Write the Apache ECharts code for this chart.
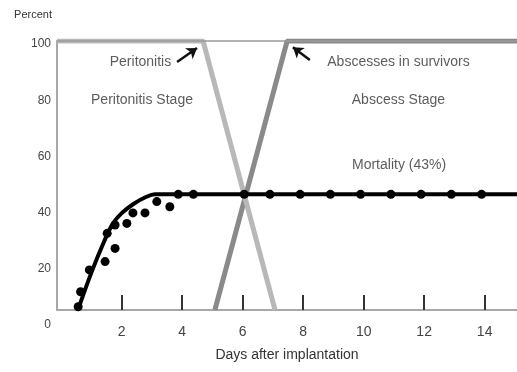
<!DOCTYPE html>
<html>
<head>
<meta charset="utf-8">
<script src="https://cdn.jsdelivr.net/npm/echarts@6/dist/echarts.min.js"></script>
<style>
  html, body { margin: 0; padding: 0; background: #fff; }
  #chart { width: 517px; height: 372px; }
</style>
</head>
<body>
<div id="chart"></div>
<script>
// Observed mortality (day after implantation, percent)
const mortalityDays = [0.56, 0.64, 0.93, 1.45, 1.52, 1.78, 1.78, 2.17, 2.37, 2.77, 3.16, 3.59, 3.87, 4.37,
                       6.05, 6.9, 7.9, 8.9, 9.9, 10.9, 11.9, 12.9, 13.9];
const mortalityPct  = [1.2, 6.8, 14.9, 18.0, 28.5, 22.9, 31.6, 32.2, 36.1, 36.1, 40.3, 38.4, 43, 43,
                       43, 43, 43, 43, 43, 43, 43, 43, 43];

// Fitted mortality curve
const fitDays = [0.55, 1.0, 1.4, 1.7, 2.0, 2.4, 2.8, 3.1, 15.07];
const fitPct  = [0, 14, 25, 32, 36, 39.5, 42, 43, 43];

// Stage curves
const peritonitisDays = [-0.14, 4.69, 7.07];
const peritonitisPct  = [100, 100, 0];
const abscessDays = [5.08, 7.47, 15.07];
const abscessPct  = [0, 100, 100];

// Axis ticks
const xTicks = [2, 4, 6, 8, 10, 12, 14];
const yTicks = [0, 20, 40, 60, 80, 100];

// Annotations: text and anchor in data units
const noteTexts = ['Peritonitis', 'Peritonitis Stage', 'Abscesses in survivors', 'Abscess Stage', 'Mortality (43%)'];
const noteDays  = [2.62, 2.67, 11.15, 11.15, 11.17];
const notePct   = [92.2, 78.1, 92.2, 78.1, 53.9];

// Arrows: [fromDay, fromPct, toDay, toPct]
const arrows = [
  [3.83, 92.2, 4.49, 97.4],
  [8.22, 92.9, 7.66, 97.7]
];

const FONT = '"Liberation Sans", Arial, sans-serif';
const zip = (xs, ys) => xs.map((x, i) => [x, ys[i]]);

const chart = echarts.init(document.getElementById('chart'), null, { renderer: 'canvas' });

chart.setOption({
  animation: false,
  backgroundColor: '#fff',
  textStyle: { fontFamily: FONT },
  grid: [
    { left: 57, right: 0, top: 41, bottom: 62 },
    { left: 57, right: 0, top: 44, bottom: 47 }
  ],
  xAxis: [
    {
      gridIndex: 0,
      type: 'value',
      min: -0.14,
      max: 15.07,
      name: 'Days after implantation',
      nameLocation: 'middle',
      nameGap: 38,
      nameTextStyle: { fontSize: 14, color: '#333', fontFamily: FONT },
      axisLine: { show: true, onZero: false, lineStyle: { color: '#a8a8a8', width: 2 } },
      axisTick: { show: true, inside: true, length: 15, customValues: xTicks,
                  lineStyle: { color: '#333', width: 2 } },
      axisLabel: { show: true, customValues: xTicks, margin: 15, fontSize: 14, color: '#444', fontFamily: FONT },
      splitLine: { show: false }
    },
    { gridIndex: 1, type: 'value', min: 0, max: 15, show: false }
  ],
  yAxis: [
    {
      gridIndex: 0,
      type: 'value',
      min: 0,
      max: 100,
      name: 'Percent',
      nameLocation: 'end',
      nameGap: 26,
      nameTextStyle: { fontSize: 11, color: '#333', align: 'right', verticalAlign: 'middle',
                       padding: [0, 5, 0, 0], fontFamily: FONT },
      axisLine: { show: true, onZero: false, lineStyle: { color: '#a8a8a8', width: 2 } },
      axisTick: { show: false },
      axisLabel: { show: false },
      splitLine: { show: false }
    },
    {
      gridIndex: 1,
      type: 'value',
      min: 0,
      max: 100,
      interval: 20,
      axisLine: { show: false },
      axisTick: { show: false },
      axisLabel: { show: true, customValues: yTicks, margin: 6, fontSize: 12, color: '#444', fontFamily: FONT },
      splitLine: { show: false }
    }
  ],
  series: [
    {
      name: 'Abscesses in survivors',
      type: 'line',
      data: zip(abscessDays, abscessPct),
      symbol: 'none',
      z: 2,
      lineStyle: { color: '#8a8a8a', width: 5 },
      markLine: {
        silent: true,
        symbol: ['none', 'none'],
        label: { show: false },
        lineStyle: { color: '#9a9a9a', width: 1.5, type: 'solid' },
        data: [{ yAxis: 100 }]
      }
    },
    {
      name: 'Peritonitis',
      type: 'line',
      data: zip(peritonitisDays, peritonitisPct),
      symbol: 'none',
      z: 3,
      lineStyle: { color: '#b8b8b8', width: 5 }
    },
    {
      name: 'Arrows',
      type: 'line',
      data: [],
      z: 6,
      markLine: {
        silent: true,
        symbol: ['none', 'arrow'],
        symbolSize: 10,
        label: { show: false },
        itemStyle: { color: '#111' },
        lineStyle: { color: '#111', width: 2.5, type: 'solid' },
        data: arrows.map(a => [{ coord: [a[0], a[1]] }, { coord: [a[2], a[3]] }])
      }
    },
    {
      name: 'Mortality fit',
      type: 'line',
      data: zip(fitDays, fitPct),
      smooth: 0.35,
      symbol: 'none',
      z: 4,
      lineStyle: { color: '#000', width: 4 }
    },
    {
      name: 'Mortality',
      type: 'scatter',
      data: zip(mortalityDays, mortalityPct),
      symbol: 'circle',
      symbolSize: 9,
      z: 5,
      itemStyle: { color: '#000', opacity: 1 }
    },
    {
      name: 'Notes',
      type: 'scatter',
      data: noteTexts.map((t, i) => ({ name: t, value: [noteDays[i], notePct[i]] })),
      symbolSize: 0,
      z: 6,
      silent: true,
      label: {
        show: true,
        position: 'inside',
        formatter: p => p.name,
        fontSize: 14,
        color: '#333',
        fontFamily: FONT
      }
    }
  ]
});
</script>
</body>
</html>
